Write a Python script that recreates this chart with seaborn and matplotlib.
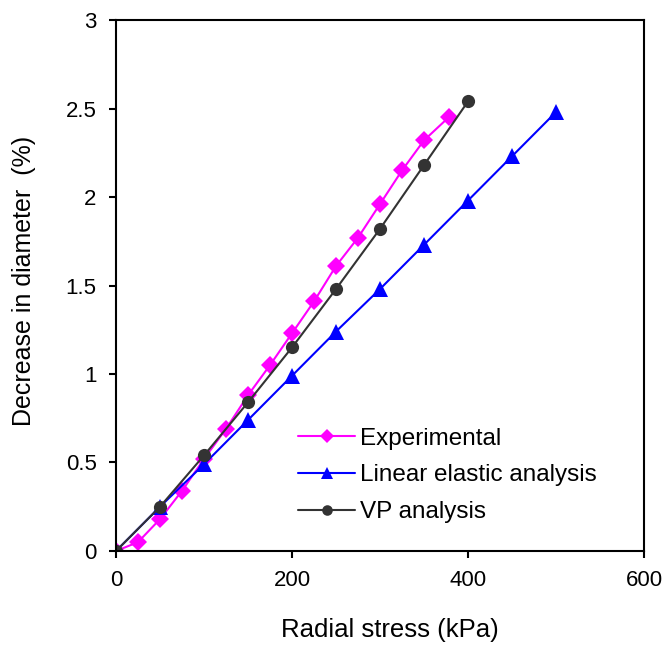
import numpy as np
import pandas as pd
import matplotlib.pyplot as plt
import seaborn as sns

# values
exp_stress = [0, 25, 50, 75, 100, 125, 150, 175, 200, 225, 250, 275, 300, 325, 350, 378]
exp_decrease = [0, 0.05, 0.18, 0.34, 0.52, 0.69, 0.88, 1.05, 1.23, 1.41, 1.61, 1.77, 1.96, 2.15, 2.32, 2.45]

lin_stress = [0, 50, 100, 150, 200, 250, 300, 350, 400, 450, 500]
lin_decrease = [0, 0.25, 0.49, 0.74, 0.99, 1.24, 1.48, 1.73, 1.98, 2.23, 2.48]

vp_stress = [0, 50, 100, 150, 200, 250, 300, 350, 400]
vp_decrease = [0, 0.25, 0.54, 0.84, 1.15, 1.48, 1.82, 2.18, 2.54]

sns.set_style("ticks")
plt.rcParams['font.family'] = ['Liberation Sans', 'DejaVu Sans']
plt.rcParams.update({'text.color': 'black', 'axes.labelcolor': 'black',
                     'xtick.color': 'black', 'ytick.color': 'black'})

fig = plt.figure(figsize=(6.69, 6.48), dpi=100)
ax = fig.add_axes([0.1734, 0.1497, 0.7892, 0.8194])

sns.lineplot(x=exp_stress, y=exp_decrease, ax=ax, color='#FF00FF', marker='D',
             markersize=9, markeredgewidth=0, linewidth=1.5, label='Experimental')
sns.lineplot(x=lin_stress, y=lin_decrease, ax=ax, color='#0000FF', marker='^',
             markersize=11, markeredgewidth=0, linewidth=1.5,
             label='Linear elastic analysis')
sns.lineplot(x=vp_stress, y=vp_decrease, ax=ax, color='#333333', marker='o',
             markersize=9.5, markeredgewidth=0, linewidth=1.5, label='VP analysis')

ax.set_xlim(0, 600)
ax.set_ylim(0, 3)
ax.set_xticks([0, 200, 400, 600])
ax.set_yticks([0, 0.5, 1, 1.5, 2, 2.5, 3])
ax.set_yticklabels(['0', '0.5', '1', '1.5', '2', '2.5', '3'])
ax.tick_params(direction='out', length=5, width=1.5, labelsize=16, pad=9)
for s in ax.spines.values():
    s.set_linewidth(1.5)
    s.set_color('black')

ax.set_xlabel('Radial stress (kPa)', fontsize=18.5, va='center')
ax.set_ylabel('Decrease in diameter  (%)', fontsize=18, va='center')
ax.xaxis.set_label_coords(0.518, -0.149)
ax.yaxis.set_label_coords(-0.174, 0.509)

ax.legend(loc='upper left', bbox_to_anchor=(0.345, 0.232), frameon=False,
          borderpad=0, borderaxespad=0,
          fontsize=17.5, handlelength=2.35, handletextpad=0.2, labelspacing=0.6,
          markerscale=0.8)

plt.savefig('out.png', dpi=100)
